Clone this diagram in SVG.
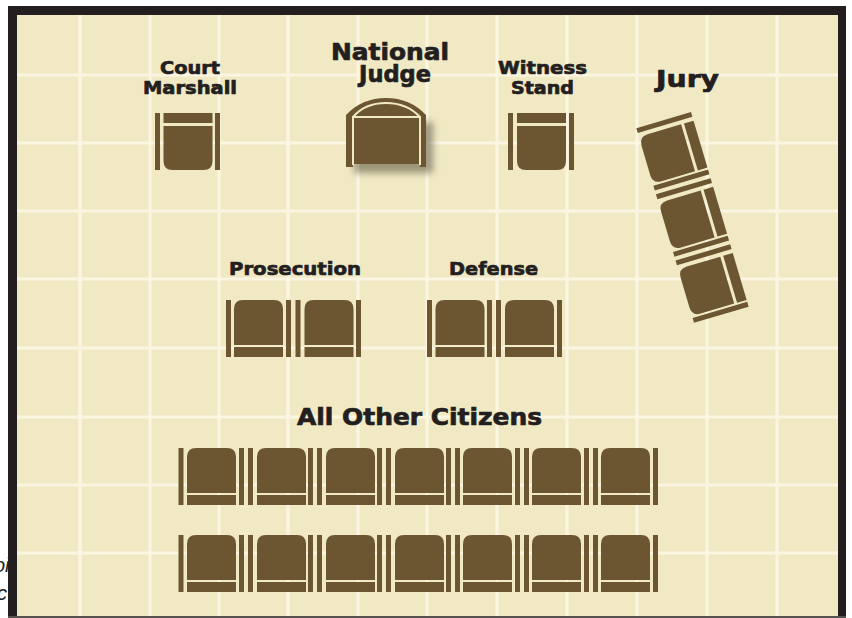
<svg xmlns="http://www.w3.org/2000/svg" width="852" height="618" viewBox="0 0 852 618">
<style>
.g{stroke:#fbf6e2;stroke-width:3.2;fill:none}
.b{fill:#6b5631}
.c{stroke:#f2e8c4;stroke-width:2;fill:none}
.f{fill:#231f20}
.t{font-family:"DejaVu Sans",sans-serif;font-weight:700;fill:#231f20;stroke:#231f20;stroke-width:.7;text-anchor:middle}
.s{font-size:18px}
.l{font-size:23px}
.i{font-family:"Liberation Sans",sans-serif;font-style:italic;font-size:20px;fill:#231f20}
</style>
<defs>
<filter id="sh" x="-20%" y="-20%" width="150%" height="150%"><feGaussianBlur stdDeviation="3.500"/></filter>
<g id="seatB">
<path class="b" d="M0 45V9Q0 0 9 0H40Q49 0 49 9V45Z"/>
<rect class="b" y="47" width="49" height="10"/>
</g>
<g id="seatT">
<rect class="b" width="49" height="10"/>
<path class="b" d="M0 13H49V48Q49 57 40 57H9Q0 57 0 48Z"/>
</g>
<rect id="arm" class="b" width="5" height="57"/>
</defs>
<rect width="852" height="618" fill="#fff"/>
<text class="i" x="-6" y="572">oi</text>
<text class="i" x="-3" y="600">c</text>
<rect id="floor" x="17" y="15" width="821" height="601" fill="#f1e9c4"/>
<g id="grid" class="g">
<path d="M80 15V616M150 15V616M219 15V616M288 15V616M358 15V616M427 15V616M497 15V616M567 15V616M637 15V616M707 15V616M777 15V616"/>
<path d="M17 75H838M17 143H838M17 211H838M17 279H838M17 348H838M17 417H838M17 485H838M17 553H838"/>
</g>
<g id="frame">
<rect class="f" x="8" y="6" width="838" height="9"/>
<rect class="f" x="8" y="6" width="9" height="612"/>
<rect class="f" x="838" y="6" width="8" height="612"/>
<rect x="8" y="616" width="838" height="2" fill="#55524f"/>
</g>
<g id="court-marshall">
<text class="t s" x="190" y="74" textLength="60" lengthAdjust="spacingAndGlyphs">Court</text>
<text class="t s" x="190" y="94" textLength="94" lengthAdjust="spacingAndGlyphs">Marshall</text>
<use href="#arm" x="155" y="113"/><use href="#seatT" x="163.500" y="113"/><use href="#arm" x="215" y="113"/>
</g>
<g id="national-judge">
<text class="t l" x="390" y="60" textLength="118" lengthAdjust="spacingAndGlyphs">National</text>
<text class="t l" x="395" y="82" textLength="72" lengthAdjust="spacingAndGlyphs">Judge</text>
<path d="M354 122H433V173H354Z" fill="#55503a" opacity=".55" filter="url(#sh)"/>
<path class="b" d="M346 115Q362 98 386 98Q410 98 426 115V167H420V164H353V167H346Z"/>
<path class="c" d="M353 165V117H420V165M353 117Q365 103 386 103Q407 103 420 117"/>
</g>
<g id="witness-stand">
<text class="t s" x="542.500" y="74" textLength="89" lengthAdjust="spacingAndGlyphs">Witness</text>
<text class="t s" x="542.500" y="94" textLength="63" lengthAdjust="spacingAndGlyphs">Stand</text>
<use href="#arm" x="508" y="113"/><use href="#seatT" x="517" y="113"/><use href="#arm" x="569" y="113"/>
</g>
<g id="jury">
<text class="t l" x="687.500" y="87" textLength="63" lengthAdjust="spacingAndGlyphs">Jury</text>
<g transform="translate(691 112) rotate(73.500)">
<rect class="b" width="5" height="57"/>
<use href="#seatT" x="9"/>
<rect class="b" x="60" width="5" height="57"/><rect class="b" x="69" width="5" height="57"/>
<use href="#seatT" x="78"/>
<rect class="b" x="129" width="5" height="57"/><rect class="b" x="138" width="5" height="57"/>
<use href="#seatT" x="147"/>
<rect class="b" x="198" width="5" height="57"/>
</g>
</g>
<g id="prosecution">
<text class="t s" x="295" y="275" textLength="132" lengthAdjust="spacingAndGlyphs">Prosecution</text>
<use href="#arm" x="226" y="300"/><use href="#seatB" x="234" y="300"/><use href="#arm" x="286" y="300"/>
<use href="#arm" x="295.500" y="300"/><use href="#seatB" x="304.500" y="300"/><use href="#arm" x="356" y="300"/>
</g>
<g id="defense">
<text class="t s" x="493.500" y="275" textLength="89" lengthAdjust="spacingAndGlyphs">Defense</text>
<use href="#arm" x="427" y="300"/><use href="#seatB" x="435.500" y="300"/><use href="#arm" x="487" y="300"/>
<use href="#arm" x="496" y="300"/><use href="#seatB" x="505" y="300"/><use href="#arm" x="557" y="300"/>
</g>
<g id="all-other-citizens">
<text class="t l" x="419.500" y="425" textLength="245" lengthAdjust="spacingAndGlyphs">All Other Citizens</text>
<g id="row1">
<use href="#arm" x="178.500" y="448"/><use href="#seatB" x="187" y="448"/><use href="#arm" x="239" y="448"/>
<use href="#arm" x="248" y="448"/><use href="#seatB" x="257" y="448"/><use href="#arm" x="308" y="448"/>
<use href="#arm" x="317" y="448"/><use href="#seatB" x="326" y="448"/><use href="#arm" x="377" y="448"/>
<use href="#arm" x="386" y="448"/><use href="#seatB" x="395" y="448"/><use href="#arm" x="446" y="448"/>
<use href="#arm" x="455" y="448"/><use href="#seatB" x="463" y="448"/><use href="#arm" x="515" y="448"/>
<use href="#arm" x="524" y="448"/><use href="#seatB" x="532" y="448"/><use href="#arm" x="584" y="448"/>
<use href="#arm" x="593" y="448"/><use href="#seatB" x="601" y="448"/><use href="#arm" x="653" y="448"/>
</g>
<g id="row2">
<use href="#arm" x="178.500" y="535"/><use href="#seatB" x="187" y="535"/><use href="#arm" x="239" y="535"/>
<use href="#arm" x="248" y="535"/><use href="#seatB" x="257" y="535"/><use href="#arm" x="308" y="535"/>
<use href="#arm" x="317" y="535"/><use href="#seatB" x="326" y="535"/><use href="#arm" x="377" y="535"/>
<use href="#arm" x="386" y="535"/><use href="#seatB" x="395" y="535"/><use href="#arm" x="446" y="535"/>
<use href="#arm" x="455" y="535"/><use href="#seatB" x="463" y="535"/><use href="#arm" x="515" y="535"/>
<use href="#arm" x="524" y="535"/><use href="#seatB" x="532" y="535"/><use href="#arm" x="584" y="535"/>
<use href="#arm" x="593" y="535"/><use href="#seatB" x="601" y="535"/><use href="#arm" x="653" y="535"/>
</g>
</g>
</svg>
